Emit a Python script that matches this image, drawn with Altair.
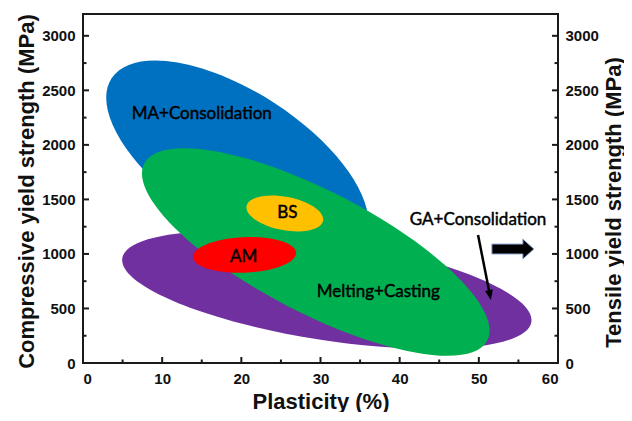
import altair as alt
import pandas as pd

# ---------------- data ----------------
x_major = [0, 10, 20, 30, 40, 50, 60]
x_minor = [5, 15, 25, 35, 45, 55]
y_major = [0, 500, 1000, 1500, 2000, 2500, 3000]
y_minor = [250, 750, 1250, 1750, 2250, 2750]

# processing-route regions: centre (plasticity %, yield strength MPa), in drawing order
region_names = ["GA+Consolidation", "MA+Consolidation", "Melting+Casting", "BS", "AM"]
region_plasticity = [30.8, 19.5, 29.4, 25.5, 20.4]
region_strength = [669, 1861, 1018, 1371, 991]

label_texts = ["MA+Consolidation", "BS", "AM", "Melting+Casting", "GA+Consolidation"]
label_plasticity = [15.0, 25.8, 20.3, 37.3, 49.9]
label_strength = [2283, 1375, 972, 651, 1311]

pointer_plasticity = [49.9, 51.4]
pointer_strength = [1174, 623]

tensile_arrow_plasticity = [54.3]
tensile_arrow_strength = [1045]

# ---------------- styles ----------------
W, H = 475, 349
region_style = {
    "GA+Consolidation": dict(color="#7030A0", semi=207, ratio=0.242, angle=8.85),
    "MA+Consolidation": dict(color="#0070C0", semi=150, ratio=0.453, angle=33.0),
    "Melting+Casting": dict(color="#00B050", semi=193, ratio=0.316, angle=27.3),
    "BS": dict(color="#FFC000", semi=39, ratio=0.428, angle=10.9),
    "AM": dict(color="#FF0000", semi=51.6, ratio=0.345, angle=357.6),
}

def ellipse_path(r):
    return f"M-1,0 A1,{r} 0 1,1 1,0 A1,{r} 0 1,1 -1,0 Z"

xs = alt.Scale(domain=[0, 60], nice=False, zero=False)
ys = alt.Scale(domain=[0, 3200], nice=False, zero=False)

tick_font = "Liberation Sans"

x_axis = alt.Axis(orient="bottom", values=x_major, format="d", ticks=False, domain=False, grid=False,
                  labelFont=tick_font, labelFontSize=15, labelFontWeight="bold",
                  labelColor="#111", labelPadding=8,
                  title="Plasticity (%)", titleFont=tick_font, titleFontSize=22,
                  titleFontWeight="bold", titleColor="#111",
                  titleBaseline="alphabetic", titleY=45)
y_axis_left = alt.Axis(orient="left", values=y_major, format="d", ticks=False, domain=False, grid=False,
                       labelFont=tick_font, labelFontSize=15, labelFontWeight="bold",
                       labelColor="#111", labelPadding=8,
                       title="Compressive yield strength (MPa)", titleFont=tick_font,
                       titleFontSize=22, titleFontWeight="bold", titleColor="#111",
                       titleAngle=270, titleAlign="center", titleBaseline="alphabetic",
                       titleX=-50, titleY=177)
y_axis_right = alt.Axis(orient="right", values=y_major, format="d", ticks=False, domain=False, grid=False,
                        labelFont=tick_font, labelFontSize=15, labelFontWeight="bold",
                        labelColor="#111", labelPadding=7,
                        title="Tensile yield strength (MPa)", titleFont=tick_font,
                        titleFontSize=22, titleFontWeight="bold", titleColor="#111",
                        titleAngle=270, titleAlign="center", titleBaseline="alphabetic",
                        titleX=62, titleY=188)

layers = []

# regions
for i, name in enumerate(region_names):
    st = region_style[name]
    df = pd.DataFrame({"p": [region_plasticity[i]], "s": [region_strength[i]]})
    layers.append(
        alt.Chart(df).mark_point(
            shape=ellipse_path(st["ratio"]), size=(2 * st["semi"]) ** 2, angle=st["angle"],
            filled=True, fill=st["color"], opacity=1, strokeWidth=0,
        ).encode(
            x=alt.X("p:Q", scale=xs, axis=x_axis if i == 0 else None),
            y=alt.Y("s:Q", scale=ys, axis=y_axis_left if i == 0 else None),
        )
    )

# labels
lab_df = pd.DataFrame({"p": label_plasticity, "s": label_strength, "t": label_texts})
layers.append(
    alt.Chart(lab_df).mark_text(font="Lato", fontSize=17, color="black",
                                stroke="black", strokeWidth=0.45).encode(
        x=alt.X("p:Q", scale=xs, axis=None),
        y=alt.Y("s:Q", scale=ys, axis=None),
        text="t:N",
    )
)

# pointer arrow
ptr_df = pd.DataFrame({"p": [pointer_plasticity[0]], "s": [pointer_strength[0]],
                       "p2": [pointer_plasticity[1]], "s2": [pointer_strength[1]]})
layers.append(
    alt.Chart(ptr_df).mark_rule(strokeWidth=2.5, color="black").encode(
        x=alt.X("p:Q", scale=xs, axis=None), x2="p2:Q",
        y=alt.Y("s:Q", scale=ys, axis=None), y2="s2:Q",
    )
)
head_df = pd.DataFrame({"p": [pointer_plasticity[1]], "s": [pointer_strength[1]]})
layers.append(
    alt.Chart(head_df).mark_point(
        shape="M-0.8,-1 L0.8,-1 L0,1 Z", size=100, angle=348.7,
        filled=True, fill="black", opacity=1, strokeWidth=0,
    ).encode(
        x=alt.X("p:Q", scale=xs, axis=None),
        y=alt.Y("s:Q", scale=ys, axis=None),
    )
)

# block arrow pointing to the tensile axis
blk_df = pd.DataFrame({"p": tensile_arrow_plasticity, "s": tensile_arrow_strength})
layers.append(
    alt.Chart(blk_df).mark_point(
        shape="M-1,-0.238 L0.476,-0.238 L0.476,-0.476 L1,0 L0.476,0.476 L0.476,0.238 L-1,0.238 Z",
        size=42 * 42, filled=True, fill="black", opacity=1,
        stroke="#8FAADC", strokeWidth=1, strokeOpacity=1,
    ).encode(
        x=alt.X("p:Q", scale=xs, axis=None),
        y=alt.Y("s:Q", scale=ys, axis=None),
    )
)

# inward ticks
bx_major = pd.DataFrame({"v": x_major})
bx_minor = pd.DataFrame({"v": x_minor})
ly_major = pd.DataFrame({"v": y_major})
ly_minor = pd.DataFrame({"v": y_minor})
tick_col = "#1a1a1a"
layers.append(alt.Chart(bx_major).mark_rule(strokeWidth=2, color=tick_col).encode(
    x=alt.X("v:Q", scale=xs, axis=None), y=alt.value(H), y2=alt.value(H - 6)))
layers.append(alt.Chart(bx_minor).mark_rule(strokeWidth=2, color=tick_col).encode(
    x=alt.X("v:Q", scale=xs, axis=None), y=alt.value(H), y2=alt.value(H - 3.5)))
layers.append(alt.Chart(ly_major).mark_rule(strokeWidth=2, color=tick_col).encode(
    y=alt.Y("v:Q", scale=ys, axis=None), x=alt.value(0), x2=alt.value(6)))
layers.append(alt.Chart(ly_minor).mark_rule(strokeWidth=2, color=tick_col).encode(
    y=alt.Y("v:Q", scale=ys, axis=None), x=alt.value(0), x2=alt.value(3.5)))
layers.append(alt.Chart(ly_major).mark_rule(strokeWidth=2, color=tick_col).encode(
    y=alt.Y("v:Q", scale=ys, axis=y_axis_right), x=alt.value(W), x2=alt.value(W - 6)))
layers.append(alt.Chart(ly_minor).mark_rule(strokeWidth=2, color=tick_col).encode(
    y=alt.Y("v:Q", scale=ys, axis=None), x=alt.value(W), x2=alt.value(W - 3.5)))

chart = alt.layer(*layers).resolve_scale(x="shared", y="shared").resolve_axis(
    x="independent", y="independent"
).properties(
    width=W, height=H,
    autosize=alt.AutoSizeParams(type="none"),
    padding={"left": 75, "top": 6, "right": 66, "bottom": 49},
    background="white",
).configure_view(stroke="#1a1a1a", strokeWidth=2)

chart.save("out.html", embed_options={"renderer": "svg", "actions": False})
